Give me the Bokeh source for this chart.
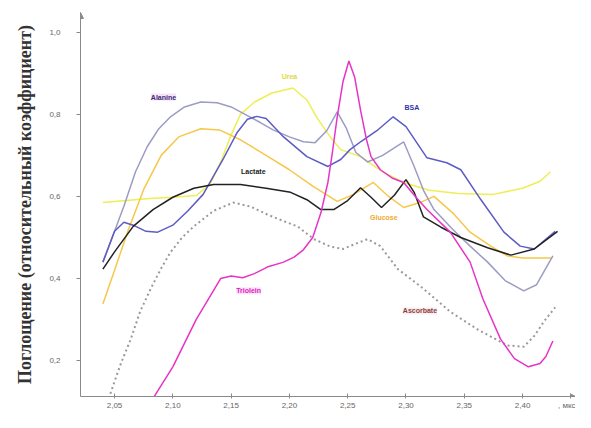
from bokeh.plotting import figure
from bokeh.models import Label, Title, Arrow, NormalHead, FixedTicker, CustomJSTickFormatter
from bokeh.embed import file_html
from bokeh.resources import INLINE

# ---- data ----
x_ticks = [2.05, 2.10, 2.15, 2.20, 2.25, 2.30, 2.35, 2.40]
y_ticks = [0.2, 0.4, 0.6, 0.8, 1.0]

alanine_x = [2.040, 2.050, 2.058, 2.068, 2.078, 2.088, 2.098, 2.110, 2.124, 2.138, 2.150, 2.164, 2.175,
             2.186, 2.200, 2.212, 2.222, 2.232, 2.241, 2.249, 2.257, 2.267, 2.280, 2.298, 2.307, 2.315,
             2.324, 2.340, 2.355, 2.370, 2.385, 2.401, 2.412, 2.426]
alanine_y = [0.440, 0.515, 0.576, 0.660, 0.721, 0.765, 0.794, 0.818, 0.830, 0.828, 0.818, 0.797, 0.780,
             0.762, 0.745, 0.733, 0.731, 0.760, 0.806, 0.765, 0.707, 0.684, 0.700, 0.733, 0.673, 0.615,
             0.568, 0.520, 0.479, 0.440, 0.395, 0.370, 0.385, 0.455]

bsa_x = [2.040, 2.050, 2.058, 2.066, 2.077, 2.087, 2.100, 2.113, 2.126, 2.135, 2.143, 2.155, 2.164, 2.172,
         2.180, 2.195, 2.215, 2.233, 2.244, 2.252, 2.262, 2.275, 2.289, 2.300, 2.318, 2.335, 2.347, 2.364,
         2.384, 2.398, 2.410, 2.428]
bsa_y = [0.440, 0.515, 0.537, 0.530, 0.515, 0.513, 0.530, 0.565, 0.605, 0.650, 0.690, 0.755, 0.788, 0.795,
         0.790, 0.745, 0.697, 0.673, 0.690, 0.714, 0.735, 0.760, 0.794, 0.770, 0.694, 0.682, 0.665, 0.593,
         0.513, 0.479, 0.472, 0.515]

lactate_x = [2.040, 2.050, 2.066, 2.083, 2.100, 2.118, 2.135, 2.158, 2.180, 2.201, 2.215, 2.227, 2.238,
             2.250, 2.261, 2.270, 2.279, 2.290, 2.300, 2.307, 2.315, 2.330, 2.347, 2.370, 2.390, 2.410, 2.430]
lactate_y = [0.423, 0.465, 0.527, 0.568, 0.598, 0.620, 0.629, 0.629, 0.620, 0.610, 0.592, 0.568, 0.568,
             0.590, 0.621, 0.598, 0.573, 0.603, 0.641, 0.610, 0.550, 0.525, 0.500, 0.475, 0.457, 0.472, 0.515]

glucose_x = [2.040, 2.050, 2.062, 2.075, 2.090, 2.105, 2.124, 2.140, 2.158, 2.180, 2.200, 2.220, 2.241,
             2.255, 2.272, 2.285, 2.298, 2.312, 2.324, 2.340, 2.355, 2.372, 2.387, 2.400, 2.425]
glucose_y = [0.338, 0.420, 0.520, 0.617, 0.700, 0.745, 0.765, 0.762, 0.738, 0.700, 0.665, 0.625, 0.588,
             0.605, 0.634, 0.600, 0.573, 0.585, 0.600, 0.560, 0.513, 0.480, 0.455, 0.450, 0.450]

urea_x = [2.040, 2.060, 2.080, 2.100, 2.120, 2.132, 2.142, 2.150, 2.158, 2.170, 2.185, 2.203, 2.215, 2.224,
          2.235, 2.244, 2.261, 2.280, 2.298, 2.320, 2.345, 2.375, 2.400, 2.415, 2.424]
urea_y = [0.585, 0.590, 0.595, 0.598, 0.602, 0.630, 0.690, 0.750, 0.800, 0.830, 0.852, 0.864, 0.835, 0.790,
          0.745, 0.714, 0.697, 0.660, 0.634, 0.615, 0.607, 0.605, 0.620, 0.637, 0.660]

triolein_x = [2.083, 2.100, 2.120, 2.141, 2.150, 2.160, 2.170, 2.181, 2.195, 2.204, 2.212, 2.220, 2.227,
              2.233, 2.237, 2.241, 2.246, 2.251, 2.256, 2.261, 2.266, 2.270, 2.278, 2.288, 2.298, 2.308,
              2.318, 2.338, 2.355, 2.366, 2.381, 2.393, 2.405, 2.415, 2.420, 2.426]
triolein_y = [0.108, 0.185, 0.300, 0.400, 0.406, 0.402, 0.412, 0.428, 0.440, 0.452, 0.470, 0.500, 0.560,
              0.634, 0.710, 0.794, 0.880, 0.930, 0.890, 0.810, 0.740, 0.697, 0.665, 0.645, 0.634, 0.600,
              0.568, 0.513, 0.440, 0.350, 0.253, 0.205, 0.185, 0.193, 0.210, 0.248]

ascorbate_x = [2.045, 2.055, 2.064, 2.072, 2.081, 2.090, 2.098, 2.108, 2.118, 2.135, 2.152, 2.167, 2.181,
               2.195, 2.207, 2.221, 2.235, 2.246, 2.257, 2.267, 2.278, 2.293, 2.312, 2.338, 2.362, 2.387,
               2.401, 2.410, 2.418, 2.428]
ascorbate_y = [0.108, 0.190, 0.253, 0.320, 0.375, 0.425, 0.464, 0.500, 0.527, 0.565, 0.585, 0.575, 0.556,
               0.540, 0.527, 0.496, 0.478, 0.472, 0.485, 0.496, 0.479, 0.423, 0.382, 0.319, 0.275, 0.237,
               0.234, 0.260, 0.294, 0.330]

# label name, x, y
names = ["Alanine", "Urea", "BSA", "Lactate", "Glucose", "Triolein", "Ascorbate"]
name_x = [2.092, 2.200, 2.305, 2.169, 2.281, 2.165, 2.312]
name_y = [0.842, 0.891, 0.816, 0.661, 0.549, 0.370, 0.321]

y_title = "Поглощение (относительный коэффициент)"
x_unit = ", мкс"
x_unit_pos = 2.441

X0, X1 = 2.0208, 2.4454
Y0, Y1 = 0.1127, 1.048

p = figure(width=575, height=412, x_range=(X0, X1), y_range=(Y0, Y1),
           output_backend="svg", toolbar_location=None,
           min_border_left=80, min_border_right=0, min_border_top=12, min_border_bottom=14)
p.outline_line_color = None
p.grid.visible = False
p.background_fill_color = "white"

axis_col = "#8a8a8a"
p.xaxis.ticker = FixedTicker(ticks=x_ticks + [x_unit_pos])
p.yaxis.ticker = FixedTicker(ticks=y_ticks)
p.xaxis.formatter = CustomJSTickFormatter(
    args=dict(unit=x_unit, upos=x_unit_pos),
    code="if (Math.abs(tick - upos) < 1e-6) { return unit; } return tick.toFixed(2).replace('.', ',');")
p.yaxis.formatter = CustomJSTickFormatter(code="return tick.toFixed(1).replace('.', ',');")
for ax in (p.xaxis, p.yaxis):
    ax.axis_line_color = axis_col
    ax.major_tick_line_color = axis_col
    ax.minor_tick_line_color = None
    ax.major_label_text_color = "#666666"
    ax.major_label_text_font = "Liberation Sans"
    ax.major_label_text_font_size = "8px"
p.xaxis.major_tick_in = 3
p.xaxis.major_tick_out = 2
p.xaxis.major_label_standoff = 2
p.yaxis.major_tick_in = 0
p.yaxis.major_tick_out = 4
p.yaxis.major_label_standoff = 16

# rotated y title placed in the left panel
p.add_layout(Title(text=y_title, align="center", offset=-13, standoff=20, vertical_align="top",
                   text_color="#333333", text_font="Liberation Serif",
                   text_font_size="18px", text_font_style="bold"), "left")

# axis arrows
p.add_layout(Arrow(end=NormalHead(size=6, fill_color=axis_col, line_color=axis_col),
                   x_start=X0, y_start=Y1 - 0.02, x_end=X0, y_end=Y1, line_color=axis_col))
p.add_layout(Arrow(end=NormalHead(size=5, fill_color=axis_col, line_color=axis_col),
                   x_start=X1 - 0.01, y_start=Y0, x_end=X1, y_end=Y0, line_color=axis_col))

lw = 1.5
p.line(urea_x, urea_y, line_color="#eeee55", line_width=lw)
p.line(glucose_x, glucose_y, line_color="#f5c84a", line_width=lw)
p.line(ascorbate_x, ascorbate_y, line_color="#9a9a9a", line_width=2, line_dash="2 3")
p.line(alanine_x, alanine_y, line_color="#9c9cc4", line_width=lw)
p.line(bsa_x, bsa_y, line_color="#5c5cc4", line_width=lw)
p.line(lactate_x, lactate_y, line_color="#222222", line_width=lw)
p.line(triolein_x, triolein_y, line_color="#e634c8", line_width=lw)

label_cols = ["#3a2a78", "#e0d840", "#3434a8", "#222222", "#f0a830", "#e020c0", "#8a4040"]
label_bg = ["#f6e4f6", None, None, None, None, "#fbe4f6", "#fbeef0"]
for n, lx, ly, c, bg in zip(names, name_x, name_y, label_cols, label_bg):
    p.add_layout(Label(x=lx, y=ly, text=n, text_color=c, text_font="Liberation Sans",
                       text_font_size="7px", text_font_style="bold", text_align="center",
                       text_baseline="middle", background_fill_color=bg))

open("out.html", "w").write(file_html(p, INLINE))
